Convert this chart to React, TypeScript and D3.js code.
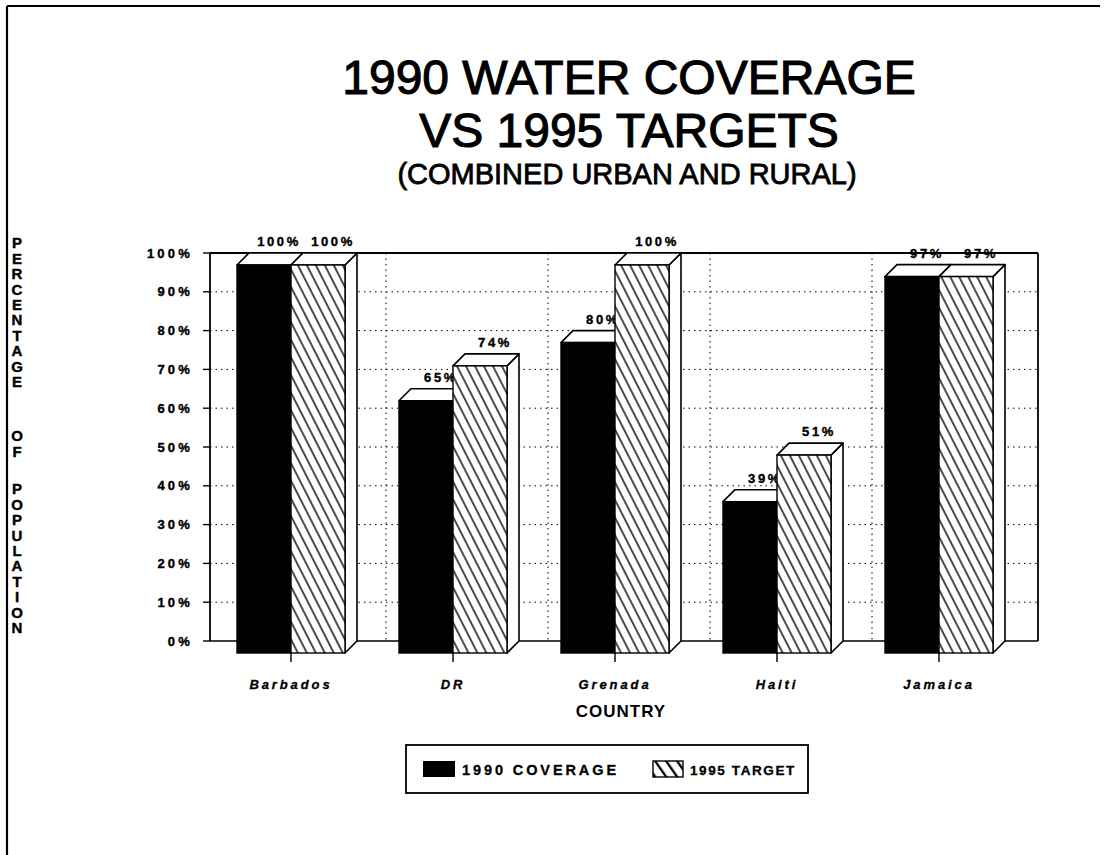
import React from "react";
import * as d3 from "d3";

const categories = ["Barbados", "DR", "Grenada", "Haiti", "Jamaica"];
const seriesNames = ["1990 COVERAGE", "1995 TARGET"];
const coverage1990 = [100, 65, 80, 39, 97];
const target1995 = [100, 74, 100, 51, 97];
const yTicks = [0, 10, 20, 30, 40, 50, 60, 70, 80, 90, 100];
const titleLines = ["1990 WATER COVERAGE", "VS 1995 TARGETS"];
const subtitle = "(COMBINED URBAN AND RURAL)";
const yLabelWords = ["PERCENTAGE", "OF", "POPULATION"];

const FONT = "'Liberation Sans', Arial, Helvetica, sans-serif";
const W = 1109;
const H = 855;
const DX = 12;
const DY = 12;
const WALL_L = 210;
const WALL_R = 1038;

export default function App() {
  const y = d3.scaleLinear().domain([0, 100]).range([641, 253]);
  const x = d3.scaleBand<string>().domain(categories).range([210, 1020]).padding(0);
  const xs = d3.scaleBand<string>().domain(seriesNames).range([27, 135]).padding(0);
  const values = [coverage1990, target1995];
  const step = x.step();

  const bars: React.ReactNode[] = [];
  categories.forEach((c, ci) => {
    seriesNames.forEach((s, si) => {
      const v = values[si][ci];
      const x0 = (x(c) as number) + (xs(s) as number);
      const x1 = x0 + xs.bandwidth();
      const yt = y(v) + DY;
      const yb = y(0) + DY;
      const fill = si === 0 ? "#000" : "url(#hatch)";
      bars.push(
        <g key={c + s}>
          <polygon
            points={`${x1},${yt} ${x1 + DX},${yt - DY} ${x1 + DX},${yb - DY} ${x1},${yb}`}
            fill="#fff" stroke="#000" strokeWidth={1.6} strokeLinejoin="round"
          />
          <polygon
            points={`${x0},${yt} ${x0 + DX},${yt - DY} ${x1 + DX},${yt - DY} ${x1},${yt}`}
            fill="#fff" stroke="#000" strokeWidth={1.6} strokeLinejoin="round"
          />
          <rect x={x0} y={yt} width={x1 - x0} height={yb - yt} fill="#fff" />
          <rect x={x0} y={yt} width={x1 - x0} height={yb - yt} fill={fill} stroke="#000" strokeWidth={1.4} />
          <text
            x={(x0 + x1) / 2 + 15}
            y={y(v) - 7}
            textAnchor="middle"
            fontFamily={FONT}
            fontWeight="bold"
            fontSize={13}
            letterSpacing={2.6}
            stroke="#000"
            strokeWidth={0.4}
          >
            {v + "%"}
          </text>
        </g>
      );
    });
  });

  const letterStep = 15.4;
  const wordStarts = [243, 436, 489];
  const yLetters: React.ReactNode[] = [];
  yLabelWords.forEach((w, wi) => {
    w.split("").forEach((ch, li) => {
      yLetters.push(
        <text
          key={wi + "-" + li}
          x={17}
          y={wordStarts[wi] + li * letterStep}
          dy="0.36em"
          textAnchor="middle"
          fontFamily={FONT}
          fontWeight="bold"
          fontSize={15}
          stroke="#000"
          strokeWidth={0.4}
        >
          {ch}
        </text>
      );
    });
  });

  return (
    <svg width={W} height={H} style={{ position: "absolute", left: 0, top: 0, background: "#fff" }}>
      <defs>
        <pattern id="hatch" patternUnits="userSpaceOnUse" width={8} height={8} patternTransform="rotate(-27)">
          <rect width={8} height={8} fill="#fff" />
          <line x1={1} y1={0} x2={1} y2={8} stroke="#000" strokeWidth={1.4} />
        </pattern>
        <pattern id="hatchL" patternUnits="userSpaceOnUse" width={9} height={9} patternTransform="rotate(-35)">
          <rect width={9} height={9} fill="#fff" />
          <line x1={1} y1={0} x2={1} y2={9} stroke="#000" strokeWidth={2.6} />
        </pattern>
      </defs>
      <rect width={W} height={H} fill="#fff" />
      <line x1={7} y1={6} x2={1100} y2={6} stroke="#000" strokeWidth={2.2} />
      <line x1={7} y1={6} x2={7} y2={H} stroke="#000" strokeWidth={2.2} />

      {titleLines.map((t, i) => (
        <text
          key={t}
          x={629}
          y={94 + i * 53}
          textAnchor="middle"
          fontFamily={FONT}
          fontSize={48}
          stroke="#000"
          strokeWidth={1.1}
        >
          {t}
        </text>
      ))}
      <text x={627} y={184} textAnchor="middle" fontFamily={FONT} fontSize={29} stroke="#000" strokeWidth={0.8}>
        {subtitle}
      </text>

      {yTicks.filter((t) => t > 0 && t < 100).map((t) => (
        <line key={"g" + t} x1={WALL_L} x2={WALL_R} y1={y(t)} y2={y(t)} stroke="#000" strokeWidth={1} strokeDasharray="1.5,4" />
      ))}
      {categories.slice(1).map((c) => (
        <line key={"v" + c} x1={(x(c) as number) + DX + 2} x2={(x(c) as number) + DX + 2} y1={y(100)} y2={y(0)} stroke="#000" strokeWidth={1} strokeDasharray="1.5,4" />
      ))}
      <line x1={WALL_L} x2={WALL_R} y1={y(100)} y2={y(100)} stroke="#000" strokeWidth={2} />
      <line x1={WALL_L} x2={WALL_R} y1={y(0)} y2={y(0)} stroke="#000" strokeWidth={1.6} />
      <line x1={WALL_L} x2={WALL_L} y1={y(100)} y2={y(0)} stroke="#000" strokeWidth={1.8} />
      <line x1={WALL_R} x2={WALL_R} y1={y(100)} y2={y(0)} stroke="#000" strokeWidth={1.8} />

      {yTicks.map((t) => (
        <g key={"t" + t}>
          <line x1={WALL_L - 7} x2={WALL_L} y1={y(t)} y2={y(t)} stroke="#000" strokeWidth={1.4} />
          <text x={193} y={y(t)} dy="0.36em" textAnchor="end" fontFamily={FONT} fontWeight="bold" fontSize={13} letterSpacing={3.2} stroke="#000" strokeWidth={0.4}>
            {t + "%"}
          </text>
        </g>
      ))}

      {bars}

      {categories.map((c) => {
        const cx = (x(c) as number) + step / 2;
        return (
          <g key={"x" + c}>
            <line x1={cx} x2={cx} y1={y(0) + DY} y2={y(0) + DY + 9} stroke="#000" strokeWidth={1.4} />
            <text x={cx} y={689} textAnchor="middle" fontFamily={FONT} fontWeight="bold" fontStyle="italic" fontSize={13} letterSpacing={2.9} stroke="#000" strokeWidth={0.3}>
              {c}
            </text>
          </g>
        );
      })}
      <text x={621} y={717} textAnchor="middle" fontFamily={FONT} fontWeight="bold" fontSize={17} letterSpacing={1}>
        COUNTRY
      </text>

      {yLetters}

      <rect x={406} y={745} width={402} height={48} fill="#fff" stroke="#000" strokeWidth={1.8} />
      <rect x={423} y={761} width={32} height={16} fill="#000" />
      <text x={462} y={775} fontFamily={FONT} fontWeight="bold" fontSize={14.5} letterSpacing={2.9} stroke="#000" strokeWidth={0.3}>
        {seriesNames[0]}
      </text>
      <rect x={653} y={761} width={30} height={16} fill="url(#hatchL)" stroke="#000" strokeWidth={1.4} />
      <text x={690} y={775} fontFamily={FONT} fontWeight="bold" fontSize={13.5} letterSpacing={1.6} stroke="#000" strokeWidth={0.3}>
        {seriesNames[1]}
      </text>
    </svg>
  );
}
